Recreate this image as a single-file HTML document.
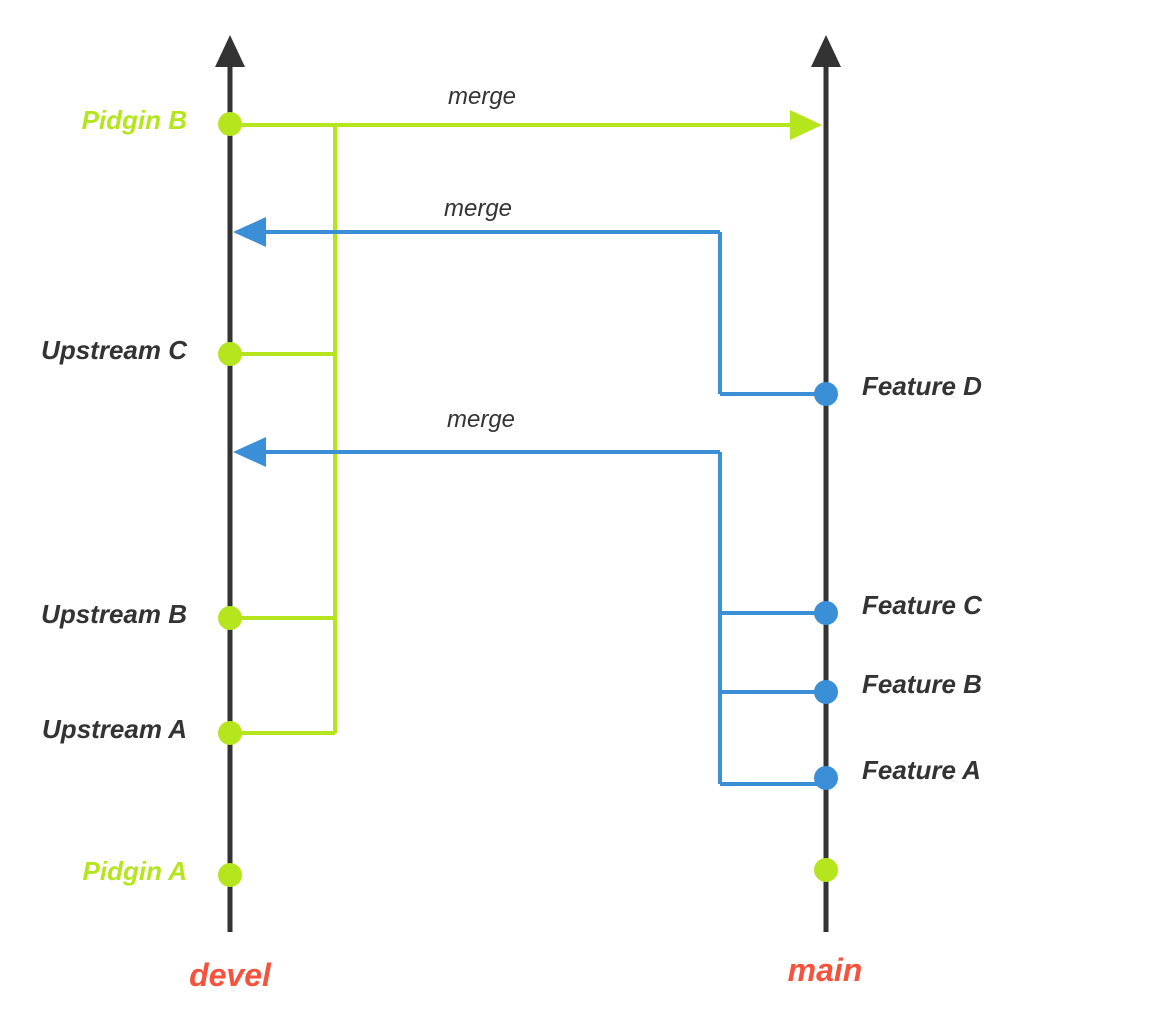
<!DOCTYPE html>
<html><head><meta charset="utf-8"><style>
html,body{margin:0;padding:0;background:#fff;}
svg{display:block;font-family:"Liberation Sans",sans-serif;}
</style></head><body>
<svg id="chart" width="1175" height="1035" viewBox="0 0 1175 1035"></svg>
<script>
const develCommits = [
  {label:"Pidgin B", y:124, color:"green", textColor:"#b5e51d"},
  {label:"Upstream C", y:354, color:"green", textColor:"#333"},
  {label:"Upstream B", y:618, color:"green", textColor:"#333"},
  {label:"Upstream A", y:733, color:"green", textColor:"#333"},
  {label:"Pidgin A", y:875, color:"green", textColor:"#b5e51d"}
];
const mainCommits = [
  {label:"Feature D", y:394},
  {label:"Feature C", y:613},
  {label:"Feature B", y:692},
  {label:"Feature A", y:778},
  {label:"", y:870}
];
const greenFeeds = [354, 618, 733];
const blueMerges = [
  {y:232, from:[394]},
  {y:452, from:[613, 692, 784]}
];
const G="#b5e51d", B="#3a8fd6", D="#333";
const svg=document.getElementById('chart');
const NS="http://www.w3.org/2000/svg";
function el(tag, attrs, parent){const e=document.createElementNS(NS,tag);for(const k in attrs)e.setAttribute(k,attrs[k]);(parent||svg).appendChild(e);return e;}
const XD=230, XM=826, XG=335, XB=720;
[[XD,"devel-axis"],[XM,"main-axis"]].forEach(([x,n])=>{
  const l=el('line',{x1:x,y1:60,x2:x,y2:932,stroke:D,'stroke-width':5});
  
  
  const a=el('polygon',{points:`${x-15},67 ${x},35 ${x+15},67`,fill:D});
  
  
});
const gv=el('polyline',{points:`${XG},125 ${XG},733`,stroke:G,'stroke-width':4,fill:'none'});


greenFeeds.forEach(y=>{
  const h=el('line',{x1:XD,y1:y,x2:XG,y2:y,stroke:G,'stroke-width':4});
  
  
});
const gm=el('line',{x1:XD,y1:125,x2:795,y2:125,stroke:G,'stroke-width':4});


const ga=el('polygon',{points:`790,110 822,125 790,140`,fill:G});


blueMerges.forEach(m=>{
  const maxY=Math.max(...m.from);
  const v=el('line',{x1:XB,y1:m.y,x2:XB,y2:maxY,stroke:B,'stroke-width':4});
  
  
  m.from.forEach(y=>{
    const h=el('line',{x1:XB,y1:y,x2:XM,y2:y,stroke:B,'stroke-width':4});
    
    
  });
  const h=el('line',{x1:262,y1:m.y,x2:XB,y2:m.y,stroke:B,'stroke-width':4});
  
  
  const a=el('polygon',{points:`266,${m.y-15} 233,${m.y} 266,${m.y+15}`,fill:B});
  
  
});
[[482,104],[478,216],[481,427]].forEach(([x,y])=>{
  const t=el('text',{x:x,y:y,'text-anchor':'middle','font-size':24,'font-style':'italic',fill:D});
  t.textContent='merge';
  
  
});
develCommits.forEach(c=>{
  const d=el('circle',{cx:XD,cy:c.y,r:12,fill:G});
  
  
  const t=el('text',{x:187,y:c.y+5,'text-anchor':'end','font-size':26,'font-weight':'bold','font-style':'italic',fill:c.textColor});
  t.textContent=c.label;
  
  
});
mainCommits.forEach(c=>{
  const d=el('circle',{cx:XM,cy:c.y,r:12,fill:c.label?B:G});
  
  
  if(c.label){
    const t=el('text',{x:862,y:c.y+1,'font-size':26,'font-weight':'bold','font-style':'italic',fill:D});
    t.textContent=c.label;
    
    
  }
});
[["devel",230,986],["main",825,981]].forEach(([s,x,y])=>{
  const t=el('text',{x:x,y:y,'text-anchor':'middle','font-size':32,'font-weight':'bold','font-style':'italic',fill:'#f5533d'});
  t.textContent=s;
  
  
});
</script>
</body></html>
